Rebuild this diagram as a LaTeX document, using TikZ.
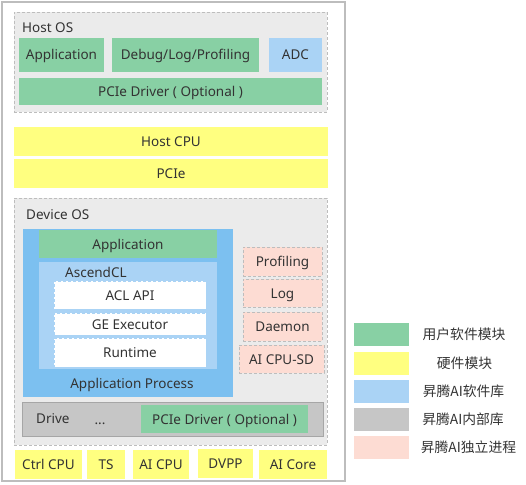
\documentclass[tikz,border=0pt]{standalone}
\usepackage{fontspec}
\setmainfont{Noto Sans}
\newfontfamily\cjk{Noto Sans CJK SC}
\usepackage{xcolor}
\usetikzlibrary{backgrounds, positioning}
\pgfdeclarelayer{boxlayer}
\pgfdeclarelayer{textlayer}
\pgfsetlayers{boxlayer,main,textlayer}

\definecolor{usergreen}{HTML}{88D0A4}
\definecolor{hwyellow}{HTML}{FFFF80}
\definecolor{libblue}{HTML}{AAD3F5}
\definecolor{procblue}{HTML}{7CC0F0}
\definecolor{osgray}{HTML}{EBEBEB}
\definecolor{drvgray}{HTML}{C6C6C6}
\definecolor{sdpink}{HTML}{FDDCD3}
\definecolor{edgegray}{HTML}{BDBDBD}
\definecolor{txt}{HTML}{333333}

\tikzset{
	blk/.style={rectangle, inner sep=0pt, text=txt, text height=11pt, text depth=1pt, font=\fontsize{13.5}{15}\selectfont},
	osbox/.style={blk, fill=osgray, draw=edgegray, dash pattern=on 3pt off 2pt},
	userbox/.style={blk, fill=usergreen},
	hwbox/.style={blk, fill=hwyellow},
	libbox/.style={blk, fill=libblue},
	apibox/.style={blk, fill=white, draw=libblue, dash pattern=on 3pt off 2pt},
	sdbox/.style={blk, fill=sdpink, draw=edgegray, dash pattern=on 3pt off 2pt},
	swatch/.style={rectangle, inner sep=0pt, minimum width=56pt, minimum height=24pt, draw=white},
	legendtext/.style={text=txt, font=\cjk\fontsize{13.8}{15}\selectfont}
}

\begin{document}
\begin{tikzpicture}[x=1pt, y=-1pt]
	\useasboundingbox (0, 0) rectangle (526, 484);
	\begin{pgfonlayer}{boxlayer}
		\node [rectangle, draw=edgegray, line width=1.2pt, minimum width=343pt, minimum height=479pt] (0) at (173.5, 241.5) {};
		\node [style=osbox, minimum width=313pt, minimum height=100pt] (1) at (170.5, 62) {};
		\node [style=osbox, minimum width=313pt, minimum height=247pt] (2) at (170.5, 321.5) {};
		\node [blk, fill=procblue, minimum width=210pt, minimum height=168pt] (3) at (128, 313) {};
		\node [style=libbox, minimum width=178pt, minimum height=107pt] (4) at (128, 315.5) {};
		\node [blk, fill=drvgray, draw=gray!70, minimum width=301pt, minimum height=34pt] (5) at (172.5, 419) {};
	\end{pgfonlayer}
	\begin{pgfonlayer}{textlayer}
		% host side
		\node [blk, anchor=west] (6) at (22, 28) {Host OS};
		\node [style=userbox, minimum width=85pt, minimum height=34pt] (7) at (61.5, 55) {Application};
		\node [style=userbox, minimum width=147pt, minimum height=34pt] (8) at (185.5, 55) {Debug/Log/Profiling};
		\node [style=libbox, minimum width=53pt, minimum height=34pt] (9) at (295.5, 55) {ADC};
		\node [style=userbox, minimum width=303pt, minimum height=27pt] (10) at (170.5, 91.5) {PCIe Driver ( Optional )};
		\node [style=hwbox, minimum width=314pt, minimum height=29pt] (11) at (171, 141.5) {Host CPU};
		\node [style=hwbox, minimum width=314pt, minimum height=29pt] (12) at (171, 173.5) {PCIe};
		% device side
		\node [blk, anchor=west] (13) at (26, 214) {Device OS};
		\node [style=userbox, minimum width=178pt, minimum height=28pt] (14) at (128, 244) {Application};
		\node [blk, anchor=west] (15) at (65, 272) {AscendCL};
		\node [style=apibox, minimum width=152pt, minimum height=28pt] (16) at (130, 295) {ACL API};
		\node [style=apibox, minimum width=152pt, minimum height=22pt] (17) at (130, 324) {GE Executor};
		\node [style=apibox, minimum width=152pt, minimum height=29pt] (18) at (130, 352.5) {Runtime};
		\node [blk] (19) at (132, 383) {Application Process};
		\node [style=sdbox, minimum width=79pt, minimum height=29pt] (20) at (282.5, 261.5) {Profiling};
		\node [style=sdbox, minimum width=79pt, minimum height=28pt] (21) at (282.5, 293) {Log};
		\node [style=sdbox, minimum width=79pt, minimum height=29pt] (22) at (282.5, 326.5) {Daemon};
		\node [style=sdbox, minimum width=85pt, minimum height=28pt] (23) at (281.5, 359) {AI CPU-SD};
		\node [blk, anchor=west] (24) at (36, 418) {Drive};
		\node [blk] (25) at (100, 419) {...};
		\node [style=userbox, minimum width=167pt, minimum height=28pt] (26) at (224.5, 419) {PCIe Driver ( Optional )};
		% hardware row
		\node [style=hwbox, minimum width=67pt, minimum height=29pt] (27) at (48.5, 464.5) {Ctrl CPU};
		\node [style=hwbox, minimum width=38pt, minimum height=29pt] (28) at (106, 464.5) {TS};
		\node [style=hwbox, minimum width=56pt, minimum height=29pt] (29) at (161, 464.5) {AI CPU};
		\node [style=hwbox, minimum width=55pt, minimum height=29pt] (30) at (225.5, 463.5) {DVPP};
		\node [style=hwbox, minimum width=68pt, minimum height=29pt] (31) at (293, 464.5) {AI Core};
		% legend
		\node [style=swatch, fill=usergreen] (32) at (381, 334) {};
		\node [style=swatch, fill=hwyellow] (33) at (381, 363) {};
		\node [style=swatch, fill=libblue] (34) at (381, 391) {};
		\node [style=swatch, fill=drvgray] (35) at (381, 419.5) {};
		\node [style=swatch, fill=sdpink] (36) at (381, 447.5) {};
		\node [style=legendtext] (37) at (464, 334) {用户软件模块};
		\node [style=legendtext] (38) at (464.5, 363) {硬件模块};
		\node [style=legendtext] (39) at (463.5, 391) {昇腾AI软件库};
		\node [style=legendtext] (40) at (463, 419.5) {昇腾AI内部库};
		\node [style=legendtext] (41) at (468.5, 447.5) {昇腾AI独立进程};
	\end{pgfonlayer}
\end{tikzpicture}
\end{document}
